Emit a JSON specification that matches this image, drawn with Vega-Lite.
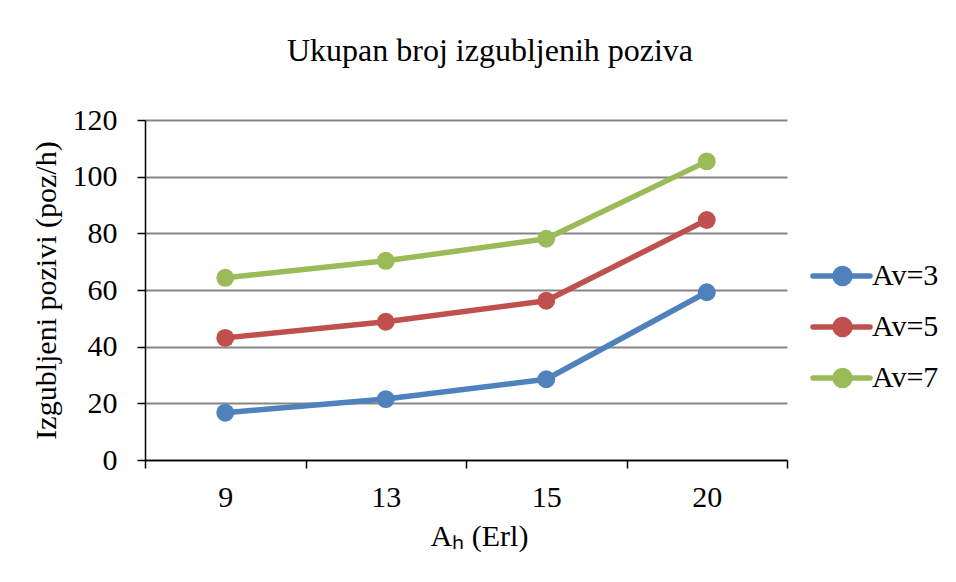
{
  "$schema": "https://vega.github.io/schema/vega-lite/v6.json",
  "width": 642,
  "height": 340,
  "autosize": {"type": "none"},
  "padding": {"left": 145, "top": 120, "right": 169, "bottom": 122},
  "background": "white",
  "title": {
    "text": "Ukupan broj izgubljenih poziva",
    "font": "Liberation Serif",
    "fontSize": 32,
    "fontWeight": "normal",
    "color": "black",
    "anchor": "middle",
    "dx": 24,
    "offset": 37
  },
  "data": {
    "values": [
      {"Ah": "9", "Av": "Av=3", "v": 16.7},
      {"Ah": "13", "Av": "Av=3", "v": 21.5},
      {"Ah": "15", "Av": "Av=3", "v": 28.5},
      {"Ah": "20", "Av": "Av=3", "v": 59.2},
      {"Ah": "9", "Av": "Av=5", "v": 43.1},
      {"Ah": "13", "Av": "Av=5", "v": 48.8},
      {"Ah": "15", "Av": "Av=5", "v": 56.2},
      {"Ah": "20", "Av": "Av=5", "v": 84.7},
      {"Ah": "9", "Av": "Av=7", "v": 64.3},
      {"Ah": "13", "Av": "Av=7", "v": 70.3},
      {"Ah": "15", "Av": "Av=7", "v": 78.1},
      {"Ah": "20", "Av": "Av=7", "v": 105.4}
    ]
  },
  "mark": {
    "type": "line",
    "strokeWidth": 5.5,
    "strokeCap": "round",
    "strokeJoin": "round",
    "point": {"filled": true, "size": 320, "opacity": 1}
  },
  "encoding": {
    "x": {
      "field": "Ah",
      "type": "ordinal",
      "sort": ["9", "13", "15", "20"],
      "bandPosition": 0.5,
      "scale": {"type": "band", "paddingInner": 0, "paddingOuter": 0},
      "axis": {
        "title": "Aₕ (Erl)",
        "titleFont": "Liberation Serif",
        "titleFontSize": 30,
        "titleFontWeight": "normal",
        "titleColor": "black",
        "titleX": 334,
        "titlePadding": 9,
        "labelAngle": 0,
        "labelFont": "Liberation Serif",
        "labelFontSize": 30,
        "labelColor": "black",
        "labelPadding": 14,
        "tickBand": "extent",
        "tickSize": 8,
        "tickColor": "black",
        "tickWidth": 1.5,
        "domainColor": "black",
        "domainWidth": 1.5,
        "grid": false
      }
    },
    "y": {
      "field": "v",
      "type": "quantitative",
      "scale": {"domain": [0, 120], "nice": false},
      "axis": {
        "title": "Izgubljeni pozivi (poz/h)",
        "titleFont": "Liberation Serif",
        "titleFontSize": 30,
        "titleFontWeight": "normal",
        "titleColor": "black",
        "titlePadding": 11,
        "values": [0, 20, 40, 60, 80, 100, 120],
        "labelFont": "Liberation Serif",
        "labelFontSize": 30,
        "labelColor": "black",
        "labelPadding": 20,
        "tickSize": 8,
        "tickColor": "black",
        "tickWidth": 1.5,
        "domainColor": "black",
        "domainWidth": 1.5,
        "grid": true,
        "gridColor": "#868686",
        "gridWidth": 2
      }
    },
    "color": {
      "field": "Av",
      "type": "nominal",
      "scale": {"domain": ["Av=3", "Av=5", "Av=7"], "range": ["#4F81BD", "#C0504D", "#9BBB59"]},
      "legend": {
        "title": null,
        "orient": "none",
        "legendX": 700,
        "legendY": 141,
        "labelFont": "Liberation Serif",
        "labelFontSize": 30,
        "labelColor": "black",
        "labelOffset": -3,
        "symbolSize": 400,
        "symbolType": "M-4.7,0H1.0M-2.5,0A0.75,0.75 0 1,1 -1,0A0.75,0.75 0 1,1 -2.5,0Z",
        "symbolStrokeWidth": 5.5,
        "rowPadding": 13,
        "encode": {
          "labels": {
            "update": {
              "font": {"value": "Liberation Serif"},
              "fontSize": {"value": 30}
            }
          },
          "symbols": {
            "update": {
              "fill": {"scale": "color", "field": "value"},
              "stroke": {"scale": "color", "field": "value"},
              "strokeCap": {"value": "round"},
              "opacity": {"value": 1}
            }
          }
        }
      }
    }
  },
  "config": {
    "font": "Liberation Serif",
    "view": {"stroke": null},
    "legend": {"labelFont": "Liberation Serif"}
  }
}
